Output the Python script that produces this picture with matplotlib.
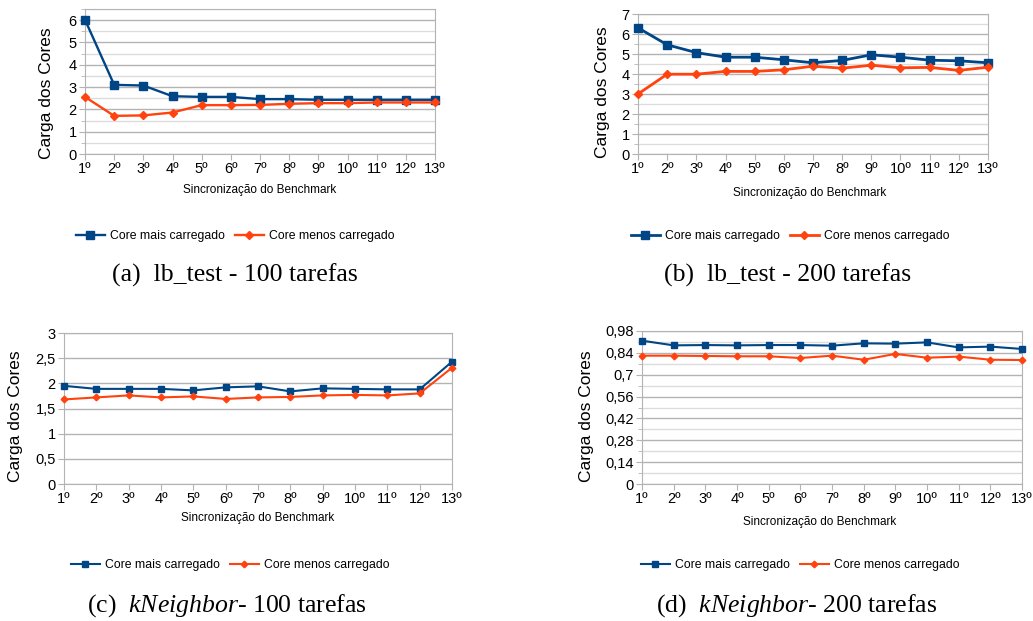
import matplotlib
matplotlib.use("Agg")
import matplotlib.pyplot as plt
from matplotlib.ticker import FixedLocator
import numpy as np

plt.rcParams["font.family"] = ["Liberation Sans", "DejaVu Sans"]
plt.rcParams["mathtext.fontset"] = "custom"
plt.rcParams["mathtext.rm"] = "Liberation Serif"
plt.rcParams["mathtext.it"] = "Liberation Serif:italic"

BLUE = "#004586"
ORANGE = "#ff420e"
GRID = "#b3b3b3"
MINOR = "#dcdcdc"

SYNC = ["1º", "2º", "3º", "4º", "5º", "6º", "7º", "8º", "9º", "10º", "11º", "12º", "13º"]
SERIES_NAMES = ["Core mais carregado", "Core menos carregado"]

# (a) lb_test - 100 tarefas
a_mais = [6.02, 3.10, 3.07, 2.59, 2.56, 2.56, 2.46, 2.46, 2.43, 2.43, 2.43, 2.43, 2.43]
a_menos = [2.56, 1.71, 1.73, 1.86, 2.19, 2.19, 2.20, 2.25, 2.28, 2.28, 2.31, 2.31, 2.31]
# (b) lb_test - 200 tarefas
b_mais = [6.31, 5.46, 5.07, 4.84, 4.84, 4.71, 4.56, 4.68, 4.96, 4.84, 4.69, 4.66, 4.56]
b_menos = [3.00, 3.99, 3.99, 4.13, 4.13, 4.21, 4.39, 4.29, 4.44, 4.31, 4.33, 4.18, 4.34]
# (c) kNeighbor - 100 tarefas
c_mais = [1.95, 1.89, 1.89, 1.89, 1.86, 1.92, 1.94, 1.84, 1.90, 1.89, 1.88, 1.88, 2.43]
c_menos = [1.68, 1.72, 1.76, 1.72, 1.74, 1.69, 1.72, 1.73, 1.76, 1.77, 1.76, 1.80, 2.31]
# (d) kNeighbor - 200 tarefas
d_mais = [0.918, 0.888, 0.890, 0.888, 0.890, 0.890, 0.886, 0.901, 0.899, 0.907, 0.875, 0.880, 0.865]
d_menos = [0.822, 0.822, 0.820, 0.818, 0.818, 0.807, 0.822, 0.796, 0.833, 0.809, 0.816, 0.796, 0.794]

W, H = 1033, 621


def px_axes(fig, x0, x1, y_top, y_bot):
    return fig.add_axes([x0 / W, 1 - y_bot / H, (x1 - x0) / W, (y_bot - y_top) / H])


def panel(fig, box, mais, menos, ymax, major, minor, ms, lw):
    ax = px_axes(fig, *box)
    x = np.arange(len(SYNC))
    ax.plot(x, mais, color=BLUE, lw=lw, marker="s", ms=ms, label=SERIES_NAMES[0],
            zorder=3, clip_on=False)
    ax.plot(x, menos, color=ORANGE, lw=lw, marker="D", ms=ms * 0.75, label=SERIES_NAMES[1],
            zorder=3, clip_on=False)
    ax.set_xlim(0, len(SYNC) - 1)
    ax.set_ylim(0, ymax)
    ax.set_xticks(x)
    ax.set_xticklabels(SYNC, fontsize=10.5)
    ax.yaxis.set_major_locator(FixedLocator(major))
    ax.set_yticklabels([f"{v:g}".replace(".", ",") for v in major], fontsize=10.5)
    if minor is not None:
        ax.yaxis.set_minor_locator(FixedLocator(minor))
        ax.grid(axis="y", which="minor", color=MINOR, lw=1)
    ax.grid(axis="y", which="major", color=GRID, lw=1)
    ax.set_axisbelow(True)
    for s in ax.spines.values():
        s.set_color(GRID)
    ax.tick_params(axis="both", which="both", color=GRID, length=4, pad=2)
    ax.tick_params(axis="y", which="minor", length=3)
    return ax


fig = plt.figure(figsize=(W / 100, H / 100), dpi=100)

ax_a = panel(fig, (85, 435, 9, 154), a_mais, a_menos, 6.5,
             list(range(7)), list(np.arange(0.5, 6.6, 1.0)), 5.5, 1.7)
ax_b = panel(fig, (638, 988, 14, 154), b_mais, b_menos, 7,
             list(range(8)), list(np.arange(0.5, 7.0, 1.0)), 5.5, 2.0)
ax_c = panel(fig, (64, 452, 333, 484), c_mais, c_menos, 3,
             [0, 0.5, 1, 1.5, 2, 2.5, 3], None, 4.5, 1.5)
ax_d = panel(fig, (642, 1022, 331, 484), d_mais, d_menos, 0.98,
             [0, 0.14, 0.28, 0.42, 0.56, 0.7, 0.84, 0.98],
             list(np.arange(0.07, 0.98, 0.14)), 4.5, 1.5)

# y labels
for (xp, yp) in [(47, 93), (602, 92), (16, 416), (587, 416)]:
    fig.text(xp / W, 1 - yp / H, "Carga dos Cores", rotation=90,
             ha="center", va="center", fontsize=12.5)

# x labels
for (xp, yp) in [(260, 190), (810, 193), (258, 518), (820, 522)]:
    fig.text(xp / W, 1 - yp / H, "Sincronização do Benchmark",
             ha="center", va="center", fontsize=8.5)

# legends
for ax, (xp, yp) in zip([ax_a, ax_b, ax_c, ax_d],
                        [(235, 236), (790, 236), (230, 565), (800, 565)]):
    h, l = ax.get_legend_handles_labels()
    fig.legend(h, l, loc="center", bbox_to_anchor=(xp / W, 1 - yp / H),
               ncol=2, frameon=False, fontsize=8.8, handlelength=2.4,
               handletextpad=0.4, columnspacing=0.8, borderpad=0)

# captions
captions = ["(a)  lb_test - 100 tarefas", "(b)  lb_test - 200 tarefas",
            r"(c)  $\mathit{kNeighbor}$- 100 tarefas",
            r"(d)  $\mathit{kNeighbor}$- 200 tarefas"]
for cap, (xp, yp) in zip(captions, [(235, 275), (788, 275), (227, 606), (797, 606)]):
    fig.text(xp / W, 1 - yp / H, cap, ha="center", va="center",
             fontsize=18.5, family="Liberation Serif")

fig.savefig("out.png", dpi=100)
